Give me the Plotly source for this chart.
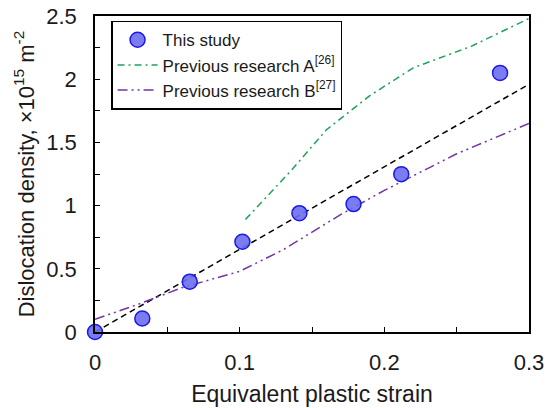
import plotly.graph_objects as go

# This study (measured)
study_strain = [0.0, 0.0327, 0.0655, 0.1019, 0.1413, 0.1787, 0.2117, 0.280]
study_density = [0.0, 0.107, 0.398, 0.714, 0.940, 1.012, 1.249, 2.05]

# Linear fit (black dashed)
fit_strain = [0.0, 0.3]
fit_density = [0.0, 1.96]

# Previous research A
a_strain = [0.104, 0.135, 0.160, 0.190, 0.220, 0.260, 0.300]
a_density = [0.89, 1.27, 1.60, 1.87, 2.09, 2.26, 2.48]

# Previous research B
b_strain = [0.0, 0.030, 0.060, 0.100, 0.130, 0.170, 0.200, 0.250, 0.300]
b_density = [0.10, 0.22, 0.35, 0.48, 0.65, 0.93, 1.12, 1.41, 1.65]

x_ticks = [0, 0.1, 0.2, 0.3]
y_ticks = [0, 0.5, 1, 1.5, 2, 2.5]

FONT = "Liberation Sans, Arial"
TXT = "#1a1a1a"

fig = go.Figure()
fig.add_trace(go.Scatter(x=fit_strain, y=fit_density, mode="lines",
                         line=dict(color="black", width=1.5, dash="6px,4px"),
                         showlegend=False))
fig.add_trace(go.Scatter(x=a_strain, y=a_density, mode="lines",
                         name="Previous research A<sup>[26]</sup>",
                         line=dict(color="#1fa35c", width=1.5, dash="7px,4px,2px,4px"),
                         legendrank=2))
fig.add_trace(go.Scatter(x=b_strain, y=b_density, mode="lines",
                         name="Previous research B<sup>[27]</sup>",
                         line=dict(color="#7434a8", width=1.5, dash="10px,4px,2px,4px,2px,4px"),
                         legendrank=3))
fig.add_trace(go.Scatter(x=study_strain, y=study_density, mode="markers",
                         name="This study", cliponaxis=False,
                         marker=dict(size=15, color="rgba(110,110,240,0.9)",
                                     line=dict(color="#1a1ae6", width=1.5)),
                         legendrank=1))

axis_common = dict(showline=True, linecolor="black", linewidth=1.5, mirror=True,
                   ticks="inside", ticklen=5, tickcolor="black", tickwidth=1.2,
                   showgrid=False, zeroline=False, automargin=False,
                   tickfont=dict(family=FONT, size=22, color=TXT))

fig.update_xaxes(range=[0, 0.3], tickvals=x_ticks, ticktext=[str(v) for v in x_ticks],
                 minor=dict(dtick=0.05, ticks="inside", ticklen=5, tickcolor="black", tickwidth=1.2),
                 title=dict(text="Equivalent plastic strain", standoff=12,
                            font=dict(family=FONT, size=23, color=TXT)),
                 ticklabelstandoff=10,
                 **axis_common)
fig.update_yaxes(range=[0, 2.5], tickvals=y_ticks, ticktext=[str(v) for v in y_ticks],
                 minor=dict(dtick=0.25, ticks="inside", ticklen=5, tickcolor="black", tickwidth=1.2),
                 title=dict(text="Dislocation density, ×10<sup>15</sup> m<sup>-2</sup>", standoff=6,
                            font=dict(family=FONT, size=22, color=TXT)),
                 ticklabelstandoff=12,
                 **axis_common)

fig.update_layout(
    width=560, height=408,
    margin=dict(l=95, r=31, t=16, b=76),
    paper_bgcolor="white", plot_bgcolor="white",
    font=dict(family=FONT, color=TXT),
    legend=dict(x=0.037, y=0.985, xanchor="left", yanchor="top",
                bordercolor="black", borderwidth=1.5, bgcolor="white",
                font=dict(family=FONT, size=17, color=TXT),
                tracegroupgap=0, itemwidth=40),
)

fig.write_html("out.html")
